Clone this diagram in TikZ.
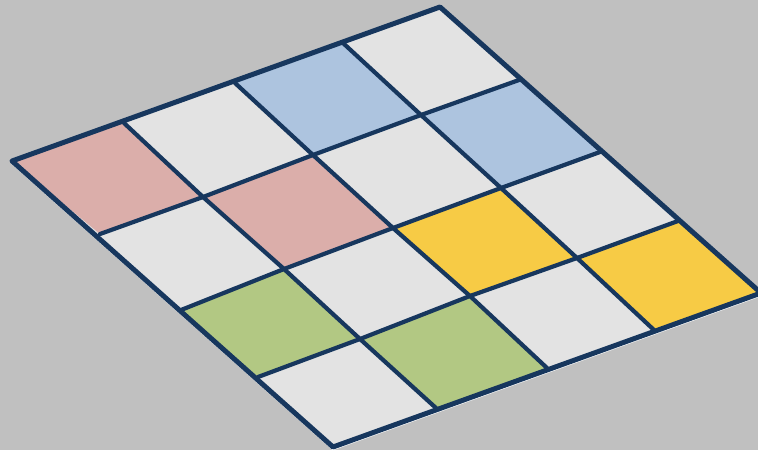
\documentclass[tikz,border=0pt]{standalone}
\definecolor{bgc}{HTML}{C0C0C0}
\definecolor{tilec}{HTML}{E3E3E3}
\definecolor{redc}{HTML}{DBAEAA}
\definecolor{bluec}{HTML}{ADC4DF}
\definecolor{yelc}{HTML}{F7CB45}
\definecolor{grnc}{HTML}{B2C883}
\definecolor{navyc}{HTML}{17375E}
\begin{document}
\begin{tikzpicture}[x=1pt,y=-1pt,
  gridline/.style={draw=navyc,line width=4.2pt,line cap=round},
  border/.style={draw=navyc,line width=5pt,line join=round},
  shadowline/.style={draw=white,line width=1.5pt}]
\fill[bgc] (0,0) rectangle (758,450);
\useasboundingbox (0,0) rectangle (758,450);
% grid points p<row><col>
\coordinate (p00) at (12,161); \coordinate (p01) at (124,123); \coordinate (p02) at (235,83); \coordinate (p03) at (343,43); \coordinate (p04) at (440,7);
\coordinate (p10) at (100,234); \coordinate (p11) at (203,197); \coordinate (p12) at (313,155); \coordinate (p13) at (421,115); \coordinate (p14) at (519,80);
\coordinate (p20) at (181,310); \coordinate (p21) at (284,269); \coordinate (p22) at (393,228); \coordinate (p23) at (501,188); \coordinate (p24) at (600,152);
\coordinate (p30) at (258,377); \coordinate (p31) at (360,339); \coordinate (p32) at (470,296); \coordinate (p33) at (577,258); \coordinate (p34) at (678,221);
\coordinate (p40) at (333,447); \coordinate (p41) at (436,408); \coordinate (p42) at (547,368); \coordinate (p43) at (654,330); \coordinate (p44) at (761,293);
% shadow
\draw[shadowline] ([yshift=-2.5pt]p00) -- ([yshift=-2.5pt]p40) -- ([yshift=-2.5pt]p44);
% base
\fill[tilec] (p00) -- (p04) -- (p44) -- (p40) -- cycle;
% coloured tiles
\fill[redc] (p00) -- (p01) -- (p11) -- (p10) -- cycle;
\fill[bluec] (p02) -- (p03) -- (p13) -- (p12) -- cycle;
\fill[redc] (p11) -- (p12) -- (p22) -- (p21) -- cycle;
\fill[bluec] (p13) -- (p14) -- (p24) -- (p23) -- cycle;
\fill[grnc] (p20) -- (p21) -- (p31) -- (p30) -- cycle;
\fill[yelc] (p22) -- (p23) -- (p33) -- (p32) -- cycle;
\fill[grnc] (p31) -- (p32) -- (p42) -- (p41) -- cycle;
\fill[yelc] (p33) -- (p34) -- (p44) -- (p43) -- cycle;
% inner grid lines
\draw[gridline] (p10) -- (p11) -- (p12) -- (p13) -- (p14);
\draw[gridline] (p20) -- (p21) -- (p22) -- (p23) -- (p24);
\draw[gridline] (p30) -- (p31) -- (p32) -- (p33) -- (p34);
\draw[gridline] (p01) -- (p11) -- (p21) -- (p31) -- (p41);
\draw[gridline] (p02) -- (p12) -- (p22) -- (p32) -- (p42);
\draw[gridline] (p03) -- (p13) -- (p23) -- (p33) -- (p43);
% border
\draw[border] (p00) -- (p04) -- (p44) -- (p40) -- cycle;
\end{tikzpicture}
\end{document}
